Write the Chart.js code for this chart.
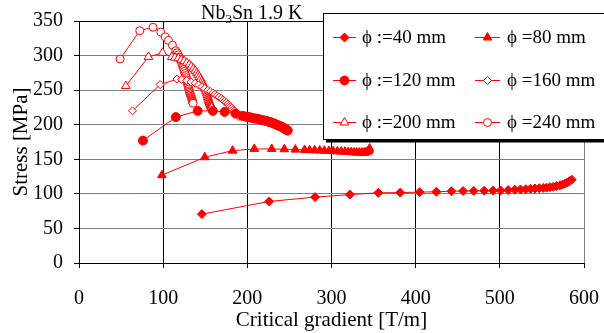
<!DOCTYPE html>
<html>
<head>
<meta charset="utf-8">
<script src="https://cdn.jsdelivr.net/npm/chart.js@4/dist/chart.umd.min.js"></script>
<style>
html,body{margin:0;padding:0;background:#fff;}
canvas{display:block;}
</style>
</head>
<body>
<canvas id="c" width="604" height="333"></canvas>
<script>
// ---- data ----
const xTicks = [0, 100, 200, 300, 400, 500, 600];
const yTicks = [0, 50, 100, 150, 200, 250, 300, 350];
const seriesLabels = ["ϕ :=40 mm", "ϕ =80 mm", "ϕ :=120 mm", "ϕ =160 mm", "ϕ :=200 mm", "ϕ =240 mm"];

const phi40_x = [146, 226, 280.5, 321.8, 355.6, 381.7, 404.8, 424.6, 442.5, 456.3, 469, 481.4, 492, 501, 509.9, 517.9, 524.6, 530.9, 536.5, 541.7, 546.8, 551.6, 555.6, 559.5, 563.5, 567.5, 571.4, 574.6, 577.4, 580.2, 582.5, 585.5];
const phi40_y = [70.7, 89, 95.3, 99, 101.5, 101.8, 102.5, 103, 103.8, 104.1, 104.3, 104.5, 104.7, 104.9, 105.4, 105.9, 106.3, 106.8, 107.3, 107.7, 108.1, 108.6, 109, 109.7, 110.3, 111.2, 112.4, 113.6, 115, 116.5, 118.3, 120.5];

const phi80_x = [98.5, 149.5, 182.5, 208.3, 229, 244, 257, 268, 274, 280, 286, 291.5, 297, 302, 307, 311.5, 316, 320, 323.5, 327, 330, 333, 335.5, 337.5, 339.5, 341, 342.5, 343.5, 344.5, 345.3];
const phi80_y = [127, 153, 162.5, 165, 165, 164.5, 164, 163.5, 163.2, 163, 162.7, 162.4, 162.1, 161.8, 161.5, 161.2, 160.9, 160.6, 160.3, 160, 159.8, 159.6, 159.5, 159.5, 159.6, 160, 160.8, 162, 163.5, 165.5];

const phi120_x = [76, 115, 141, 159, 173, 186, 194, 196.5, 199, 201.5, 204, 206.5, 209, 211.5, 214, 216.5, 219, 221.5, 224, 226, 228, 230, 232, 233.5, 235, 236.5, 238, 239.5, 241, 242, 243, 244, 245, 246, 247, 247.5, 248];
const phi120_y = [177, 211, 220, 220, 218.5, 216, 213, 212, 211.5, 211, 210.5, 209.5, 209, 208.5, 208, 207, 206.5, 205.5, 205, 204, 203.5, 202.5, 201.5, 200.5, 200, 199, 198.5, 197.5, 197, 196, 195.5, 194.5, 194, 193, 192.5, 192, 191.5];

const phi160_x = [63.5, 96.4, 116.3, 122, 128, 133, 138, 142, 146, 149.5, 153, 156, 159, 161.5, 164, 166.5, 169, 171, 173, 175, 177, 178.5, 180, 181.5, 183, 184.5, 186, 187, 188, 189, 190];
const phi160_y = [220, 258, 266, 265.5, 264, 262, 260, 257.5, 255, 252.5, 250, 248, 246, 244, 242, 240, 238, 236, 234, 232, 230, 228, 226, 224, 222, 220, 218, 216.5, 215, 213.5, 212];

const phi200_x = [55.6, 82.5, 99.2, 110.3, 114, 118, 121.5, 125, 128, 131, 133.5, 136, 138, 140, 141.5, 143, 144.5, 146, 147, 148, 149, 150, 151, 152, 152.5, 153, 153.5, 154, 154.5, 155, 155.5, 156, 156.5, 157, 157.3, 157.5];
const phi200_y = [256, 298, 304, 298, 297, 296, 294, 292, 289.5, 287, 284, 281, 278, 275, 272, 269, 266, 263, 260, 257, 254, 251, 248, 245, 242.5, 240, 238, 236, 234, 232, 230.5, 229, 228, 227, 226, 225];

const phi240_x = [48.8, 72.2, 88, 97.2, 102.4, 106.3, 111, 115, 116.5, 118, 119, 120, 121, 122, 123, 124, 124.5, 125, 126, 127, 127.5, 128, 128.5, 129, 129.5, 130, 130.5, 131, 131.5, 132, 132.5, 133, 133.5, 134, 134.3, 134.5, 134.8, 135, 135.3, 135.5];
const phi240_y = [295, 336, 341, 334, 327, 322, 315, 307, 304, 301, 298, 295, 292, 289, 286, 283, 280, 277, 274, 271, 268, 265, 262, 259, 256.5, 254, 251.5, 249, 247, 245, 243, 241, 239.5, 238, 236.5, 235, 234, 233, 232, 231];

// ---- styling ----
const RED = '#ff0000';
const FONT = '"Liberation Serif", "Times New Roman", serif';
const styles = [
  {pointStyle: 'rectRot', radius: 4.5, filled: true},
  {pointStyle: 'triangle', radius: 5, filled: true},
  {pointStyle: 'circle', radius: 4.5, filled: true},
  {pointStyle: 'rectRot', radius: 4, filled: false},
  {pointStyle: 'triangle', radius: 5, filled: false},
  {pointStyle: 'circle', radius: 4, filled: false}
];
const xs = [phi40_x, phi80_x, phi120_x, phi160_x, phi200_x, phi240_x];
const ys = [phi40_y, phi80_y, phi120_y, phi160_y, phi200_y, phi240_y];

const datasets = xs.map((xa, i) => ({
  label: seriesLabels[i],
  data: xa.map((x, k) => ({x: x, y: ys[i][k]})),
  borderColor: RED,
  borderWidth: 1,
  backgroundColor: styles[i].filled ? RED : '#ffffff',
  pointBackgroundColor: styles[i].filled ? RED : '#ffffff',
  pointBorderColor: RED,
  pointBorderWidth: 1,
  pointStyle: styles[i].pointStyle,
  pointRadius: styles[i].radius,
  tension: 0,
  fill: false,
  showLine: true
}));

function drawMarker(c, st, x, y) {
  const r = st.radius;
  c.beginPath();
  if (st.pointStyle === 'circle') {
    c.arc(x, y, r, 0, Math.PI * 2);
  } else if (st.pointStyle === 'triangle') {
    let a = 0;
    c.moveTo(x + Math.sin(a) * r, y - Math.cos(a) * r);
    a += 2 * Math.PI / 3;
    c.lineTo(x + Math.sin(a) * r, y - Math.cos(a) * r);
    a += 2 * Math.PI / 3;
    c.lineTo(x + Math.sin(a) * r, y - Math.cos(a) * r);
  } else {
    c.moveTo(x - r, y); c.lineTo(x, y - r); c.lineTo(x + r, y); c.lineTo(x, y + r);
  }
  c.closePath();
  c.fillStyle = st.filled ? RED : '#ffffff';
  c.fill();
  c.strokeStyle = RED; c.lineWidth = 1;
  c.stroke();
}

const textPlugin = {
  id: 'texts',
  afterDraw(chart) {
    const c = chart.ctx;
    c.save();
    // title
    c.fillStyle = '#000';
    c.textBaseline = 'alphabetic';
    c.textAlign = 'left';
    c.font = '20px ' + FONT;
    let tx = 201;
    c.fillText('Nb', tx, 19);
    tx += c.measureText('Nb').width;
    c.font = '13px ' + FONT;
    c.fillText('3', tx, 23);
    tx += c.measureText('3').width;
    c.font = '20px ' + FONT;
    c.fillText('Sn 1.9 K', tx, 19);

    // axis titles
    c.textAlign = 'center';
    c.textBaseline = 'middle';
    c.font = '21px ' + FONT;
    const ca = chart.chartArea;
    c.fillText('Critical gradient [T/m]', (ca.left + ca.right) / 2, 320);
    c.save();
    c.translate(21, (ca.top + ca.bottom) / 2);
    c.rotate(-Math.PI / 2);
    c.fillText('Stress [MPa]', 0, 0);
    c.restore();

    // legend box
    c.fillStyle = '#000';
    c.fillRect(326, 16, 300, 126.5);
    c.fillStyle = '#fff';
    c.fillRect(323, 13, 300, 127);
    c.strokeStyle = '#000';
    c.lineWidth = 1;
    c.strokeRect(323.5, 13.5, 300, 126);

    const rowsY = [37, 80, 122];
    const cols = [{l0: 333, l1: 356, m: 344.5, t: 362}, {l0: 475, l1: 500, m: 487.5, t: 507}];
    c.font = '19px ' + FONT;
    c.textAlign = 'left';
    c.textBaseline = 'middle';
    for (let i = 0; i < seriesLabels.length; i++) {
      const col = cols[i % 2];
      const y = rowsY[Math.floor(i / 2)];
      c.strokeStyle = RED; c.lineWidth = 1;
      c.beginPath(); c.moveTo(col.l0, y + 0.5); c.lineTo(col.l1, y + 0.5); c.stroke();
      drawMarker(c, styles[i], col.m, y + 0.5);
      c.fillStyle = '#000';
      c.fillText(seriesLabels[i], col.t, y + 1);
    }
    c.restore();
  }
};

new Chart(document.getElementById('c'), {
  type: 'line',
  data: {datasets: datasets},
  options: {
    responsive: false,
    animation: false,
    events: [],
    layout: {padding: {left: 0, right: 20, top: 21, bottom: 0}},
    plugins: {legend: {display: false}, title: {display: false}, tooltip: {enabled: false}},
    scales: {
      x: {
        type: 'linear', min: 0, max: 600,
        afterFit(s) { s.height = 70; s.paddingLeft = 0; s.paddingRight = 0; },
        afterBuildTicks(s) { s.ticks = xTicks.map(v => ({value: v})); },
        ticks: {color: '#000', font: {family: FONT, size: 20}, padding: 19, maxRotation: 0},
        grid: {
          color: ctx => (ctx.tick && ctx.tick.value === 600) ? '#808080' : '#000000',
          tickColor: '#000', tickLength: 5, lineWidth: 1
        },
        border: {color: '#000', width: 1}
      },
      y: {
        type: 'linear', min: 0, max: 350,
        afterFit(s) { s.width = 79; s.paddingTop = 0; s.paddingBottom = 0; },
        afterBuildTicks(s) { s.ticks = yTicks.map(v => ({value: v})); },
        ticks: {color: '#000', font: {family: FONT, size: 20}, padding: 11},
        grid: {
          color: ctx => (ctx.tick && (ctx.tick.value === 350 || ctx.tick.value === 0)) ? '#000000' : '#808080',
          tickColor: '#000', tickLength: 5, lineWidth: 1
        },
        border: {color: '#000', width: 1}
      }
    }
  },
  plugins: [textPlugin]
});
</script>
</body>
</html>
